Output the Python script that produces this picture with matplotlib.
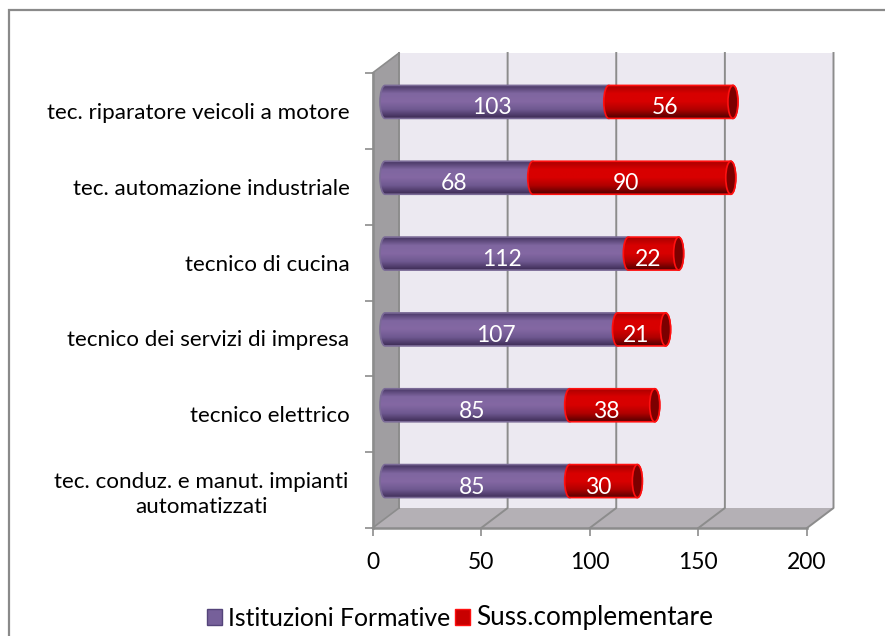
import matplotlib
matplotlib.use("Agg")
import matplotlib.pyplot as plt
import numpy as np
from matplotlib.patches import Ellipse, PathPatch, Patch, Polygon, Rectangle
from matplotlib.path import Path
from matplotlib.colors import LinearSegmentedColormap

categories = ["tec. conduz. e manut. impianti\nautomatizzati", "tecnico elettrico",
              "tecnico dei servizi di impresa", "tecnico di cucina",
              "tec. automazione industriale", "tec. riparatore veicoli a motore"]
istituzioni = [85, 85, 107, 112, 68, 103]
sussidiarieta = [30, 38, 21, 22, 90, 56]
series_names = ["Istituzioni Formative", "Suss.complementare"]
xticks = [0, 50, 100, 150, 200]

W, H = 885, 636
plt.rcParams["font.family"] = ["Lato", "DejaVu Sans"]

fig = plt.figure(figsize=(W / 100, H / 100), dpi=100)
fig.add_artist(Rectangle((9 / W, -10 / H), (W + 10) / W, (H + 10 - 10) / H, transform=fig.transFigure,
                         fc="white", ec="#8a8a8a", lw=1.6, zorder=-1))

# front plane of the fake 3d box
ax = fig.add_axes([372.5 / W, 1 - 528 / H, 434.5 / W, 455 / H])
ax.set_xlim(0, 200)
ax.set_ylim(0, 6)
ax.patch.set_alpha(0)
for s in ["top", "right"]:
    ax.spines[s].set_visible(False)
for s in ["left", "bottom"]:
    ax.spines[s].set_color("#8c8c8c")
    ax.spines[s].set_linewidth(1.8)

px = 200 / 434.5
py = 6 / 455
dx, dy = 26.5 * px, 20 * py   # depth of the box
grey = "#8c8c8c"

ax.add_patch(Polygon([(dx, dy), (200 + dx, dy), (200 + dx, 6 + dy), (dx, 6 + dy)], fc="#ece9f1", ec="none",
                     zorder=0, clip_on=False))
ax.add_patch(Polygon([(0, 0), (dx, dy), (200 + dx, dy), (200, 0)], fc="#b4b0b5", ec="none", zorder=0, clip_on=False))
ax.add_patch(Polygon([(0, 0), (dx, dy), (dx, 6 + dy), (0, 6)], fc="#a09ea1", ec="none", zorder=0.5, clip_on=False))
for t in xticks[1:]:
    ax.plot([t, t + dx, t + dx], [0, dy, 6 + dy], color=grey, lw=1.4, zorder=1, clip_on=False)
ax.plot([dx, dx], [dy, 6 + dy], color=grey, lw=1.4, zorder=1, clip_on=False)
ax.plot([0, dx], [6, 6 + dy], color=grey, lw=1.2, zorder=1, clip_on=False)
ax.plot([0, dx], [0, dy], color=grey, lw=1.2, zorder=1, clip_on=False)

ax.set_xticks(xticks)
ax.set_yticks(range(7))
ax.set_yticklabels([])
ax.set_yticks(np.arange(6) + 0.5, categories, minor=True)
ax.tick_params(axis="y", which="minor", length=0, labelsize=16.1, pad=0)
ax.tick_params(axis="y", which="major", length=6, width=1.2, color=grey)
ax.tick_params(axis="x", length=6, width=1.2, color=grey, labelsize=16.5, pad=11)
for lab in ax.get_yticklabels(minor=True):
    if "\n" in lab.get_text():
        lab.set_ha("center")
        lab.set_multialignment("center")
        lab.set_linespacing(1.3)
        lab.set_x(-0.3935)
    else:
        lab.set_ha("right")
        lab.set_x(-0.053)

purple = LinearSegmentedColormap.from_list("p", ["#463562", "#7f66a0", "#8468a3", "#6e5890", "#3d2c55"])
red = LinearSegmentedColormap.from_list("r", ["#a80000", "#d80000", "#d80000", "#b00000", "#520000"])
grad = np.linspace(0, 1, 64).reshape(-1, 1)

bx = 12.5 * px      # bar start inside the box
by = 9 * py
bh = 33 * py
rx = 5 * px         # half width of the cylinder ellipse
end_pad = 2.5 * px


def cylinder(x0, x1, yc, cmap, edge, z):
    y0, y1 = yc - bh / 2, yc + bh / 2
    k = 0.5523
    verts = [(x0, y0), (x1, y0), (x1 + k * rx, y0), (x1 + rx, yc - k * bh / 2), (x1 + rx, yc),
             (x1 + rx, yc + k * bh / 2), (x1 + k * rx, y1), (x1, y1), (x0, y1),
             (x0 - k * rx, y1), (x0 - rx, yc + k * bh / 2), (x0 - rx, yc),
             (x0 - rx, yc - k * bh / 2), (x0 - k * rx, y0), (x0, y0)]
    codes = [Path.MOVETO, Path.LINETO] + [Path.CURVE4] * 6 + [Path.LINETO] + [Path.CURVE4] * 6
    shape = PathPatch(Path(verts, codes), transform=ax.transData, fc="none", ec=edge, lw=1.2, zorder=z + 0.1)
    ax.add_patch(shape)
    im = ax.imshow(grad, extent=[x0 - rx, x1 + rx, y0, y1], origin="upper", aspect="auto", cmap=cmap, zorder=z)
    im.set_clip_path(shape)


ys = np.arange(len(categories)) + 0.5 + by
for y, a, b in zip(ys, istituzioni, sussidiarieta):
    x0 = bx
    x1 = bx + a
    x2 = x1 + b + end_pad
    cylinder(x0, x1, y, purple, "#7a6a96", 3)
    cylinder(x1, x2, y, red, "#ff1010", 4)
    ax.add_patch(Ellipse((x2, y), 2 * rx, bh, fc="#7c0000", ec="#ff1010", lw=1.2, zorder=5))
    ax.text(x0 + a / 2 - 2.3, y - 6 * py, str(a), color="white", fontsize=16.5, ha="center", va="center", zorder=6)
    ax.text(x1 + b / 2 - 2.0, y - 6 * py, str(b), color="white", fontsize=16.5, ha="center", va="center", zorder=6)
ax.set_xlim(0, 200)
ax.set_ylim(0, 6)

handles = [Patch(fc="#76609a", ec="#54447a", lw=1), Patch(fc="#c80000", ec="#ff1010", lw=1)]
leg = fig.legend(handles, series_names, loc="center", bbox_to_anchor=(460 / W, 1 - 618 / H), ncol=2, frameon=False,
                 fontsize=17.8, handlelength=0.6, handleheight=0.6, handletextpad=0.25, columnspacing=0.2)
leg.get_texts()[1].set_fontsize(18.8)

fig.savefig("out.png", dpi=100)
